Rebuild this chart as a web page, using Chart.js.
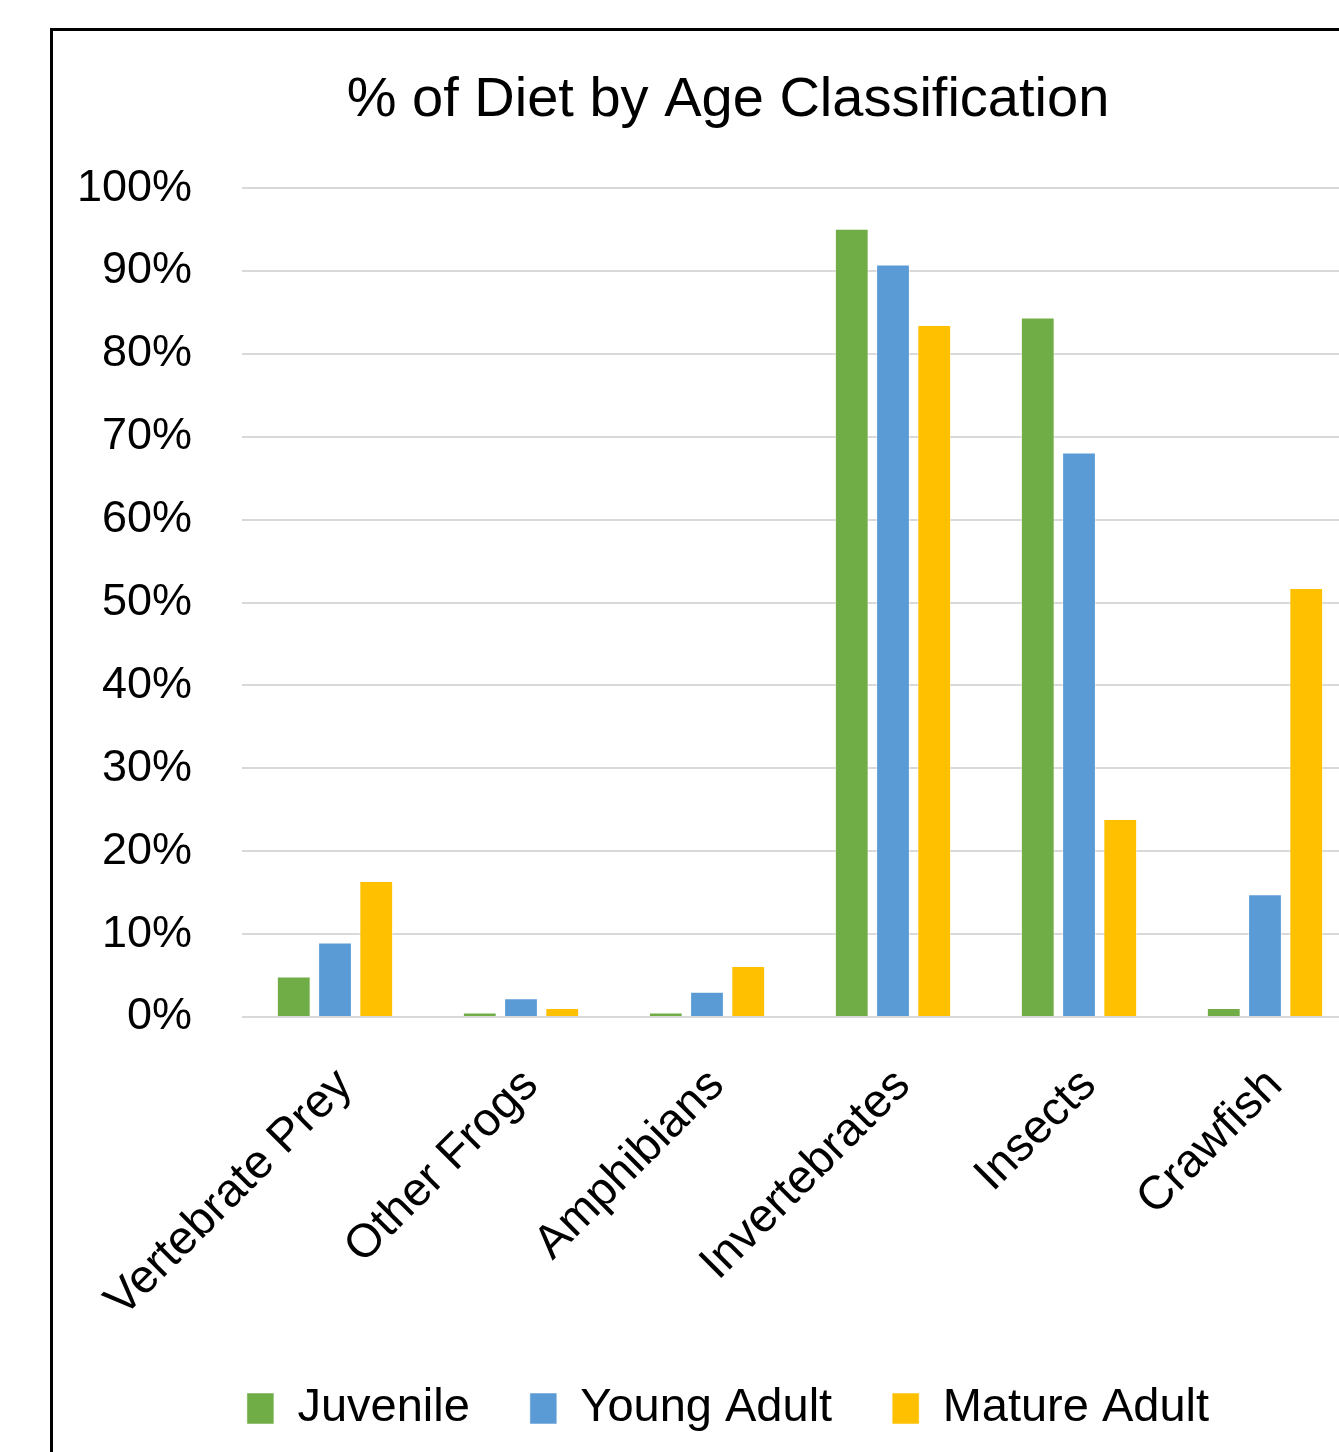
<!DOCTYPE html>
<html>
<head>
<meta charset="utf-8">
<script src="https://cdn.jsdelivr.net/npm/chart.js@4.4.1/dist/chart.umd.min.js"></script>
<style>
  html, body { margin: 0; padding: 0; background: #fff; overflow: hidden; width: 1339px; height: 1452px; }
  #frame { position: absolute; left: 50px; top: 28px; width: 1400px; height: 1500px; border-left: 3px solid #000; border-top: 3px solid #000; }
  #wrap { position: absolute; left: 53px; top: 31px; width: 1350px; height: 1421px; }
</style>
</head>
<body>
<div id="frame"></div>
<div id="wrap"><canvas id="myChart"></canvas></div>
<script>
const categorias = ['Vertebrate Prey', 'Other Frogs', 'Amphibians', 'Invertebrates', 'Insects', 'Crawfish'];
const juvenile = [4.9, 0.55, 0.55, 95.1, 84.4, 1.1];
const youngAdult = [9.0, 2.25, 3.05, 90.8, 68.1, 14.8];
const matureAdult = [16.4, 1.1, 6.15, 83.5, 23.9, 51.75];
const titulo = '% of Diet by Age Classification';

const fuente = 'Liberation Sans, Arial, sans-serif';

const data = {
    labels: categorias,
    datasets: [
        { label: 'Juvenile', data: juvenile, backgroundColor: '#70AD47' },
        { label: 'Young Adult', data: youngAdult, backgroundColor: '#5B9BD5' },
        { label: 'Mature Adult', data: matureAdult, backgroundColor: '#FFC000' }
    ]
};
data.datasets.forEach(d => {
    d.borderColor = 'rgba(255,255,255,0.5)';
    d.borderWidth = 1;
    d.categoryPercentage = 0.665;
    d.barPercentage = 0.82;
});

const config = {
    type: 'bar',
    data: data,
    options: {
        responsive: true,
        maintainAspectRatio: false,
        animation: false,
        layout: { padding: { left: 0, right: 0, top: 0, bottom: 10 } },
        plugins: {
            title: {
                display: true,
                text: titulo,
                color: '#000',
                font: { family: fuente, size: 56, weight: 'normal' },
                padding: { top: 36, bottom: 54 }
            },
            legend: {
                position: 'bottom',
                labels: {
                    color: '#000',
                    font: { family: fuente, size: 47 },
                    boxWidth: 27,
                    boxHeight: 31,
                    padding: 60
                }
            },
            tooltip: { enabled: false }
        },
        scales: {
            x: {
                grid: { display: false },
                border: { display: false },
                ticks: {
                    color: '#000',
                    font: { family: fuente, size: 47 },
                    minRotation: 45,
                    maxRotation: 45,
                    padding: 33,
                    labelOffset: 10
                },
                afterFit: function (s) {
                    s.height = 308;
                    s.paddingRight = 45;
                }
            },
            y: {
                min: 0,
                max: 100,
                grid: { color: '#D9D9D9', lineWidth: 2, drawTicks: false },
                border: { display: false },
                ticks: {
                    stepSize: 10,
                    color: '#000',
                    font: { family: fuente, size: 45 },
                    padding: 50,
                    callback: v => v + '%'
                },
                afterFit: function (s) {
                    s.width = 189;
                }
            }
        }
    }
};

const myChart = new Chart(document.getElementById('myChart'), config);
</script>
</body>
</html>
